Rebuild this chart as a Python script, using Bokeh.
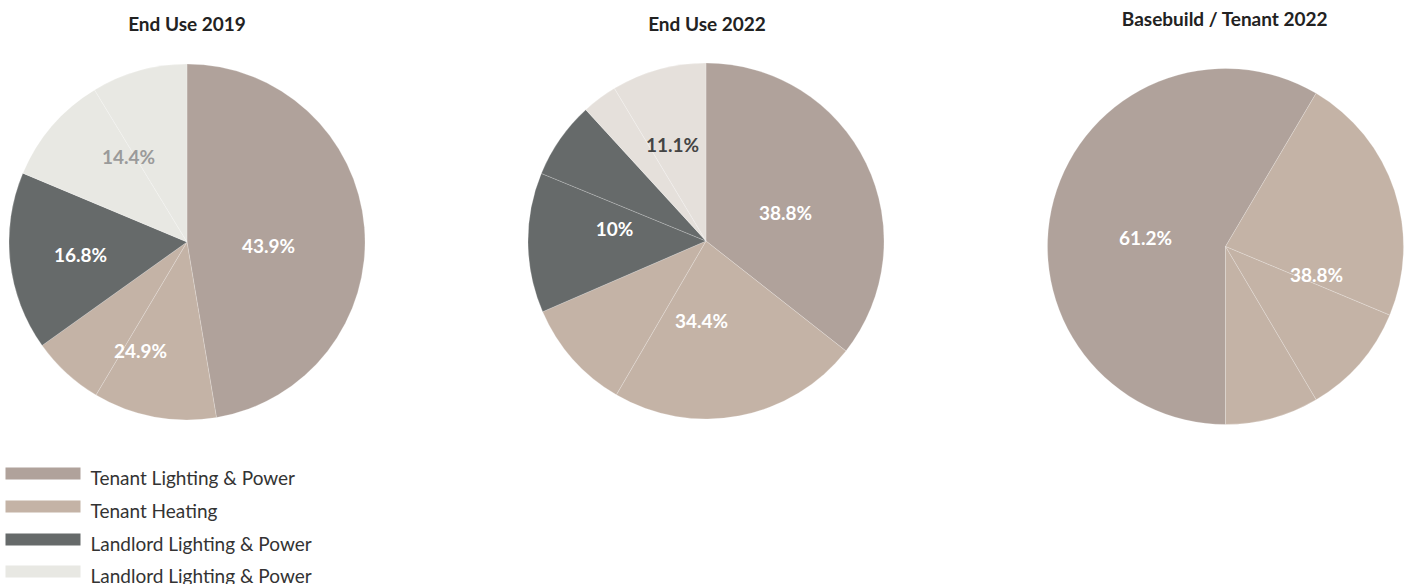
import numpy as np
from bokeh.plotting import figure
from bokeh.models import Range1d, ColumnDataSource
from bokeh.core.properties import value
from bokeh.embed import file_html
from bokeh.resources import INLINE

# ---------------- data ----------------
categories = ["Tenant Lighting & Power", "Tenant Heating",
              "Landlord Lighting & Power", "Landlord Lighting & Power"]
cat_colors = ["#b0a29b", "#c4b3a6", "#666a6a", "#e8e8e3"]

# End Use 2019 (slice shares in %, clockwise from 12 o'clock)
pie1_values = [47.4, 11.2, 6.6, 16.2, 10.0, 8.7]
pie1_cats = [0, 1, 1, 2, 3, 3]
pie1_labels = ["43.9%", "24.9%", "16.8%", "14.4%"]
pie1_label_colors = ["#ffffff", "#ffffff", "#ffffff", "#9a9a9a"]

# End Use 2022
pie2_values = [35.6, 22.8, 10.1, 12.7, 7.0, 3.2, 8.6]
pie2_cats = [0, 1, 1, 2, 2, 3, 3]
pie2_light = "#e5e0db"
pie2_labels = ["38.8%", "34.4%", "10%", "11.1%"]
pie2_label_colors = ["#ffffff", "#ffffff", "#ffffff", "#444444"]

# Basebuild / Tenant 2022 (starts at 6 o'clock)
pie3_values = [58.5, 22.8, 10.2, 8.5]
pie3_cats = [0, 1, 1, 1]
pie3_labels = ["61.2%", "38.8%"]
pie3_label_colors = ["#ffffff", "#ffffff"]

titles = ["End Use 2019", "End Use 2022", "Basebuild / Tenant 2022"]

# ---------------- layout ----------------
W, H = 1410, 584
p = figure(width=W, height=H, output_backend="svg", toolbar_location=None,
           x_range=Range1d(0, W), y_range=Range1d(0, H),
           x_axis_location=None, y_axis_location=None, min_border=0)
p.grid.visible = False
p.outline_line_color = None
p.background_fill_color = "white"
p.border_fill_color = "white"

def Y(y):
    return H - y

R = 178

def draw_pie(cx, cy, values, cats, colors, start_deg=0.0):
    vals = np.array(values, dtype=float)
    frac = vals / vals.sum() * 360.0
    ends = start_deg + np.cumsum(frac)
    starts = ends - frac
    # clockwise from top -> bokeh anticlockwise from +x
    sa = np.radians(90 - ends)
    ea = np.radians(90 - starts)
    src = ColumnDataSource(dict(x=[cx] * len(vals), y=[Y(cy)] * len(vals),
                                sa=sa, ea=ea, c=[colors[k] for k in cats]))
    p.wedge(x="x", y="y", radius=R, start_angle="sa", end_angle="ea",
            fill_color="c", line_color="#ffffff", line_alpha=0.35,
            line_width=0.6, source=src)

def draw_labels(xs, ys, texts, colors):
    p.text(x=xs, y=[Y(v) for v in ys], text=texts, text_color=colors,
           text_font=value("Lato"), text_font_style="bold",
           text_font_size="19px", text_align="center", text_baseline="middle")

# pie 1
draw_pie(186.5, 241.5, pie1_values, pie1_cats, cat_colors)
draw_labels([268, 140, 80, 128], [245, 350, 254, 156], pie1_labels, pie1_label_colors)

# pie 2
colors2 = cat_colors[:3] + [pie2_light]
draw_pie(705.5, 240.5, pie2_values, pie2_cats, colors2)
draw_labels([785, 701, 614, 672], [212, 320, 228, 144], pie2_labels, pie2_label_colors)

# pie 3
draw_pie(1225, 246, pie3_values, pie3_cats, cat_colors, start_deg=180.0)
draw_labels([1145, 1316], [237, 274], pie3_labels, pie3_label_colors)

# titles
p.text(x=[186.5, 706.5, 1224.5], y=[Y(22.5), Y(22.5), Y(17.5)], text=titles,
       text_color="#222222", text_font=value("Lato"), text_font_style="bold",
       text_font_size="19px", text_align="center", text_baseline="middle")

# legend
leg_y = [473, 506, 539, 571]
p.quad(left=[5] * 4, right=[80] * 4,
       top=[Y(v - 6) for v in leg_y], bottom=[Y(v + 6) for v in leg_y],
       fill_color=cat_colors, line_color=None)
p.text(x=[90] * 4, y=[Y(v + 3.5) for v in leg_y], text=categories,
       text_color="#333333", text_font=value("Lato"), text_font_size="19px",
       text_align="left", text_baseline="middle")

open("out.html", "w").write(file_html(p, INLINE))
